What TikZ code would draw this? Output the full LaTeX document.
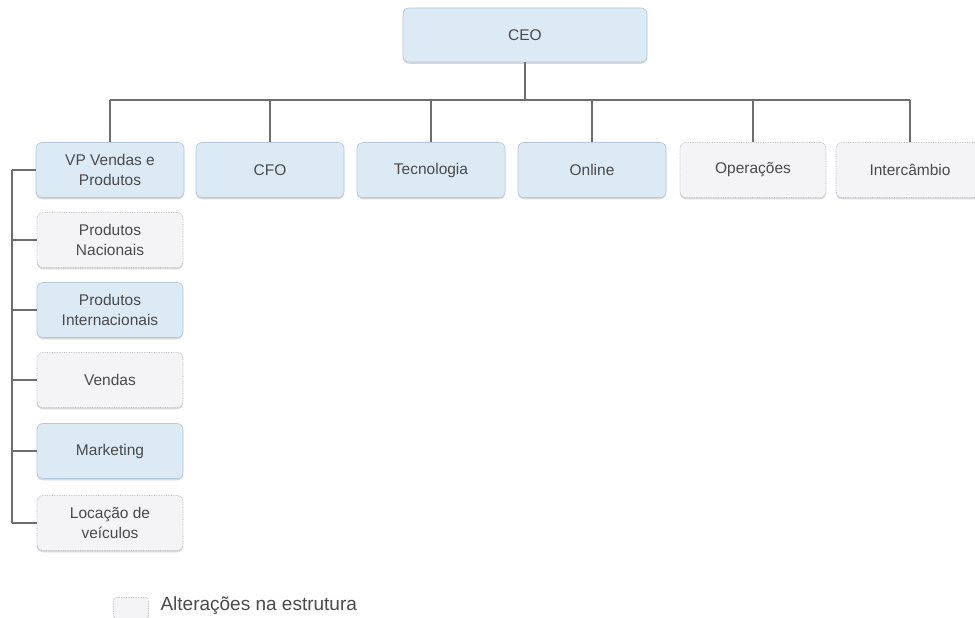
\documentclass[tikz,border=0pt]{standalone}
\usepackage{fontspec}
\setmainfont{Liberation Sans}
\usetikzlibrary{shadows,calc}
\definecolor{bluefill}{HTML}{DCEAF6}
\definecolor{blueline}{HTML}{B4C8DC}
\definecolor{greyfill}{HTML}{F4F4F7}
\definecolor{greyline}{HTML}{BDBDC2}
\definecolor{txt}{HTML}{4A4A4A}
\definecolor{conn}{HTML}{6E6E6E}
\tikzset{
  box/.style={rounded corners=6pt, minimum width=148pt, minimum height=55pt, align=center,
    text=txt, font=\fontsize{15.5}{19.5}\selectfont, inner sep=2pt,
    drop shadow={shadow xshift=0pt, shadow yshift=-1.8pt, fill=black!25, opacity=0.6}},
  bluebox/.style={box, fill=bluefill, draw=blueline, line width=0.6pt},
  greybox/.style={box, fill=greyfill, draw=greyline, densely dotted, line width=0.7pt},
  link/.style={draw=conn, line width=1.2pt},
}
\begin{document}
\begin{tikzpicture}[x=1pt,y=-1pt]
\useasboundingbox[fill=white] (0,0) rectangle (975,618);
\node[bluebox, minimum width=244pt, minimum height=54pt] (ceo) at (525,35) {CEO};
\node[bluebox] (vp) at (110,170) {VP Vendas e\\Produtos};
\node[bluebox] (cfo) at (270,170) {CFO};
\node[bluebox] (tec) at (431,170) {Tecnologia};
\node[bluebox] (onl) at (592,170) {Online};
\node[greybox, minimum width=146pt] (ope) at (753,170) {Operações};
\node[greybox] (int) at (910,170) {Intercâmbio};
\node[greybox, minimum width=146pt] (pn) at (110,240) {Produtos\\Nacionais};
\node[bluebox, minimum width=146pt] (pi) at (110,310) {Produtos\\Internacionais};
\node[greybox, minimum width=146pt] (ven) at (110,380) {Vendas};
\node[bluebox, minimum width=146pt] (mkt) at (110,451) {Marketing};
\node[greybox, minimum width=146pt] (loc) at (110,523) {Locação de\\veículos};
\coordinate (bus) at (0,100);
\coordinate (spine) at (12,0);
% top bus
\draw[link] (ceo.south) -- (ceo.south |- bus);
\draw[link] (vp.north |- bus) -- (int.north |- bus);
\foreach \n in {vp,cfo,tec,onl,ope,int}{
  \draw[link] (\n.north) -- (\n.north |- bus);
}
% left spine
\draw[link] (vp.west -| spine) -- (loc.west -| spine);
\foreach \n in {vp,pn,pi,ven,mkt,loc}{
  \draw[link] (\n.west) -- (\n.west -| spine);
}
% legend
\node[greybox, minimum width=35pt, minimum height=21pt, rounded corners=3pt] (leg) at (131,608) {};
\node[anchor=west, text=txt, font=\fontsize{19}{22}\selectfont] (legt) at (157,606) {Alterações na estrutura};
\end{tikzpicture}
\end{document}
